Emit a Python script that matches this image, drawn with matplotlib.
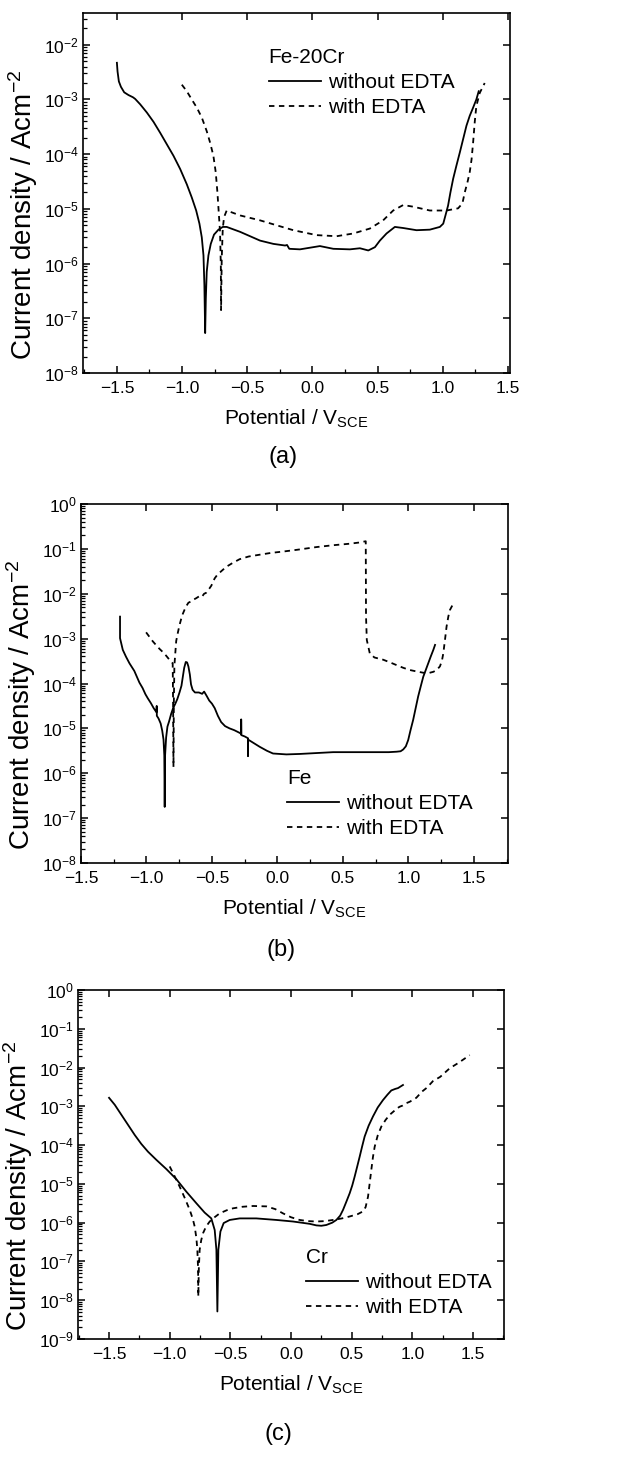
import numpy as np
import matplotlib
matplotlib.use("Agg")
import matplotlib.pyplot as plt
from matplotlib.ticker import MultipleLocator, LogLocator, NullFormatter

plt.rcParams["font.family"] = ["Liberation Sans", "DejaVu Sans"]
plt.rcParams["mathtext.fontset"] = "custom"
plt.rcParams["mathtext.rm"] = "Liberation Sans"
plt.rcParams["mathtext.it"] = "Liberation Sans:italic"
plt.rcParams["mathtext.bf"] = "Liberation Sans:bold"

# ---- DATA (potential in V_SCE, log10 of current density in A/cm2) ----
# (a) Fe-20Cr
a_wo_E = [-1.500, -1.495, -1.485, -1.469, -1.444, -1.411, -1.377, -1.360, -1.321, -1.270,
          -1.219, -1.168, -1.117, -1.066, -1.015, -0.964, -0.926, -0.892, -0.867, -0.849,
          -0.836, -0.829, -0.823, -0.818, -0.811, -0.798, -0.780, -0.755, -0.721, -0.688,
          -0.658, -0.555, -0.402, -0.300, -0.210, -0.195, -0.178, -0.096, 0.006, 0.057,
          0.160, 0.287, 0.364, 0.428, 0.479, 0.517, 0.568, 0.632, 0.696, 0.798,
          0.900, 0.977, 1.003, 1.020, 1.040, 1.058, 1.079, 1.104, 1.130, 1.155,
          1.181, 1.206, 1.232, 1.257, 1.275]
a_wo_L = [-2.33, -2.49, -2.67, -2.77, -2.87, -2.92, -2.96, -2.99, -3.09, -3.24,
          -3.41, -3.61, -3.82, -4.03, -4.27, -4.55, -4.79, -5.03, -5.27, -5.52,
          -5.85, -6.39, -7.27, -6.64, -6.15, -5.85, -5.64, -5.47, -5.38, -5.33,
          -5.33, -5.42, -5.58, -5.64, -5.67, -5.66, -5.73, -5.74, -5.70, -5.68,
          -5.73, -5.74, -5.72, -5.76, -5.70, -5.58, -5.45, -5.33, -5.35, -5.39,
          -5.38, -5.33, -5.27, -5.12, -4.94, -4.70, -4.45, -4.21, -3.97, -3.73,
          -3.48, -3.30, -3.15, -3.00, -2.85]
a_w_E = [-1.002, -0.964, -0.926, -0.887, -0.849, -0.811, -0.785, -0.760, -0.742, -0.729,
         -0.719, -0.709, -0.703, -0.701, -0.696, -0.688, -0.678, -0.658, -0.555, -0.402,
         -0.275, -0.147, 0.032, 0.185, 0.313, 0.440, 0.542, 0.619, 0.696, 0.772,
         0.900, 1.028, 1.117, 1.150, 1.168, 1.190, 1.206, 1.220, 1.232, 1.245,
         1.257, 1.283, 1.321]
a_w_L = [-2.73, -2.85, -3.00, -3.15, -3.33, -3.58, -3.79, -4.03, -4.33, -4.70,
         -5.06, -5.42, -6.03, -6.85, -5.91, -5.36, -5.15, -5.03, -5.12, -5.21,
         -5.30, -5.39, -5.48, -5.50, -5.45, -5.36, -5.21, -5.03, -4.93, -4.96,
         -5.03, -5.03, -4.99, -4.90, -4.70, -4.50, -4.33, -4.10, -3.79, -3.40,
         -3.12, -2.88, -2.70]

# (b) Fe
b_wo_E = [-1.202, -1.202, -1.181, -1.157, -1.130, -1.093, -1.054, -1.030, -1.008, -0.990,
          -0.966, -0.945, -0.924, -0.922, -0.921, -0.908, -0.892, -0.880, -0.870, -0.864,
          -0.861, -0.858, -0.850, -0.840, -0.828, -0.812, -0.797, -0.780, -0.765, -0.748,
          -0.733, -0.720, -0.712, -0.700, -0.690, -0.680, -0.669, -0.660, -0.648, -0.630,
          -0.600, -0.575, -0.560, -0.540, -0.521, -0.500, -0.479, -0.455, -0.430, -0.400,
          -0.366, -0.330, -0.289, -0.277, -0.277, -0.276, -0.250, -0.225, -0.225, -0.224,
          -0.180, -0.136, -0.080, -0.034, 0.068, 0.170, 0.297, 0.425, 0.680, 0.850,
          0.909, 0.940, 0.960, 0.980, 0.998, 1.015, 1.036, 1.055, 1.074, 1.095,
          1.113, 1.132, 1.151, 1.170, 1.190, 1.203]
b_wo_L = [-2.51, -2.99, -3.25, -3.40, -3.55, -3.72, -3.98, -4.10, -4.24, -4.33,
          -4.44, -4.55, -4.64, -4.50, -4.72, -4.78, -4.89, -5.05, -5.25, -5.60,
          -6.75, -5.60, -5.20, -4.96, -4.85, -4.68, -4.55, -4.45, -4.35, -4.20,
          -4.05, -3.80, -3.65, -3.52, -3.53, -3.62, -3.80, -4.02, -4.14, -4.20,
          -4.20, -4.23, -4.18, -4.28, -4.38, -4.45, -4.55, -4.72, -4.86, -4.95,
          -5.00, -5.04, -5.10, -5.12, -4.80, -5.15, -5.18, -5.22, -5.62, -5.25,
          -5.33, -5.41, -5.50, -5.56, -5.58, -5.57, -5.55, -5.53, -5.53, -5.53,
          -5.52, -5.51, -5.47, -5.40, -5.26, -5.05, -4.81, -4.55, -4.29, -4.05,
          -3.85, -3.70, -3.55, -3.40, -3.25, -3.14]
b_w_E = [-1.003, -0.975, -0.952, -0.925, -0.900, -0.875, -0.850, -0.825, -0.810, -0.800,
         -0.797, -0.794, -0.791, -0.787, -0.780, -0.773, -0.760, -0.748, -0.735, -0.723,
         -0.710, -0.697, -0.680, -0.659, -0.640, -0.621, -0.605, -0.590, -0.575, -0.560,
         -0.545, -0.530, -0.519, -0.505, -0.492, -0.480, -0.460, -0.430, -0.391, -0.340,
         -0.289, -0.220, -0.136, -0.050, 0.042, 0.150, 0.297, 0.420, 0.552, 0.620,
         0.674, 0.676, 0.682, 0.705, 0.740, 0.807, 0.860, 0.909, 0.960, 1.011,
         1.060, 1.113, 1.150, 1.190, 1.215, 1.240, 1.255, 1.266, 1.280, 1.291,
         1.305, 1.317, 1.335, 1.355]
b_w_L = [-2.86, -2.97, -3.06, -3.15, -3.23, -3.30, -3.38, -3.47, -3.52, -3.55,
         -4.40, -5.86, -4.40, -3.60, -3.32, -3.05, -2.86, -2.70, -2.56, -2.45,
         -2.36, -2.28, -2.20, -2.17, -2.13, -2.10, -2.07, -2.04, -2.06, -2.00,
         -1.98, -1.92, -1.88, -1.82, -1.74, -1.66, -1.58, -1.50, -1.40, -1.31,
         -1.23, -1.17, -1.13, -1.09, -1.06, -1.02, -0.96, -0.92, -0.885, -0.86,
         -0.83, -2.50, -3.03, -3.33, -3.42, -3.47, -3.53, -3.59, -3.65, -3.70,
         -3.73, -3.76, -3.77, -3.74, -3.70, -3.62, -3.50, -3.33, -3.00, -2.73,
         -2.50, -2.36, -2.26, -2.19]

# (c) Cr
c_wo_E = [-1.500, -1.453, -1.398, -1.343, -1.288, -1.234, -1.179, -1.110, -1.027, -0.945,
          -0.863, -0.780, -0.712, -0.657, -0.629, -0.615, -0.607, -0.599, -0.582, -0.555,
          -0.505, -0.423, -0.286, -0.121, 0.016, 0.154, 0.209, 0.250, 0.291, 0.340,
          0.374, 0.405, 0.429, 0.455, 0.484, 0.505, 0.525, 0.546, 0.566, 0.586,
          0.607, 0.640, 0.676, 0.715, 0.758, 0.795, 0.827, 0.860, 0.882, 0.923]
c_wo_L = [-2.78, -2.96, -3.22, -3.48, -3.74, -3.97, -4.17, -4.38, -4.62, -4.88,
          -5.20, -5.50, -5.74, -5.89, -6.19, -6.70, -8.29, -6.70, -6.23, -6.01,
          -5.93, -5.89, -5.89, -5.93, -5.97, -6.03, -6.07, -6.08, -6.06, -6.00,
          -5.93, -5.82, -5.67, -5.47, -5.24, -5.04, -4.81, -4.55, -4.30, -4.04,
          -3.78, -3.50, -3.26, -3.03, -2.84, -2.70, -2.59, -2.55, -2.53, -2.45]
c_w_E = [-1.000, -0.960, -0.918, -0.875, -0.835, -0.810, -0.794, -0.780, -0.772, -0.766,
         -0.764, -0.760, -0.753, -0.740, -0.725, -0.700, -0.670, -0.630, -0.588, -0.530,
         -0.478, -0.400, -0.313, -0.203, -0.130, -0.066, 0.000, 0.071, 0.140, 0.209,
         0.280, 0.346, 0.420, 0.484, 0.550, 0.593, 0.615, 0.635, 0.648, 0.662,
         0.676, 0.690, 0.715, 0.745, 0.780, 0.813, 0.850, 0.870, 0.896, 0.920,
         0.950, 0.980, 1.033, 1.080, 1.120, 1.170, 1.230, 1.308, 1.380, 1.473]
c_w_L = [-4.55, -4.80, -5.07, -5.37, -5.67, -5.90, -6.10, -6.40, -6.70, -7.20,
         -7.90, -7.20, -6.70, -6.45, -6.27, -6.10, -5.97, -5.86, -5.76, -5.68,
         -5.63, -5.59, -5.57, -5.58, -5.65, -5.76, -5.86, -5.93, -5.96, -5.97,
         -5.96, -5.93, -5.89, -5.84, -5.78, -5.71, -5.60, -5.33, -5.00, -4.64,
         -4.30, -4.04, -3.75, -3.52, -3.35, -3.22, -3.12, -3.06, -3.01, -2.98,
         -2.92, -2.88, -2.78, -2.62, -2.52, -2.35, -2.24, -2.02, -1.88, -1.68]

PANELS = [
    dict(wo=(a_wo_E, a_wo_L), w=(a_w_E, a_w_L), title="Fe-20Cr", tag="(a)",
         xlim=(-1.76, 1.515), ylim=(1e-8, 10 ** -1.42), pos=(83, 13, 510, 373),
         leg=(0.435, 0.903), tag_y=84),
    dict(wo=(b_wo_E, b_wo_L), w=(b_w_E, b_w_L), title="Fe", tag="(b)",
         xlim=(-1.5, 1.76), ylim=(1e-8, 1.0), pos=(81, 504, 508, 863),
         leg=(0.482, 0.262), tag_y=87),
    dict(wo=(c_wo_E, c_wo_L), w=(c_w_E, c_w_L), title="Cr", tag="(c)",
         xlim=(-1.756, 1.756), ylim=(1e-9, 1.0), pos=(78, 990, 504, 1339),
         leg=(0.535, 0.262), tag_y=95),
]

W, H = 627, 1458
fig = plt.figure(figsize=(W / 100, H / 100), dpi=100)

for p in PANELS:
    l, t, r, b = p["pos"]
    ax = fig.add_axes((l / W, 1 - b / H, (r - l) / W, (b - t) / H))
    e, lg = p["wo"]
    ax.plot(e, 10 ** np.array(lg), color="black", lw=1.3, label="without EDTA")
    e, lg = p["w"]
    ax.plot(e, 10 ** np.array(lg), color="black", lw=1.3, ls=(0, (3, 2.5)), label="with EDTA")
    ax.set_yscale("log")
    ax.set_xlim(*p["xlim"])
    ax.set_ylim(*p["ylim"])
    ax.xaxis.set_major_locator(MultipleLocator(0.5))
    ax.xaxis.set_minor_locator(MultipleLocator(0.25))
    ax.yaxis.set_major_locator(LogLocator(base=10, numticks=20))
    ax.yaxis.set_minor_locator(LogLocator(base=10, subs=np.arange(2, 10), numticks=20))
    ax.yaxis.set_minor_formatter(NullFormatter())
    ax.tick_params(which="major", direction="in", top=True, right=True, length=5, width=1.1)
    ax.tick_params(which="minor", direction="in", top=False, right=False, length=2.8, width=0.9)
    ax.tick_params(axis="x", which="major", labelsize=12.5, pad=6)
    ax.tick_params(axis="y", which="major", labelsize=12.5, pad=3)
    for s in ax.spines.values():
        s.set_linewidth(1.2)
    ax.set_xlabel("Potential / V$_{\\mathrm{SCE}}$", fontsize=15, labelpad=8)
    ax.set_ylabel("Current density / Acm$^{-2}$", fontsize=20)
    ax.yaxis.set_label_coords(-0.10, 0.44)
    ax.legend(title=p["title"], frameon=False, fontsize=15, title_fontsize=15,
              handlelength=2.5, handletextpad=0.35, labelspacing=0.3,
              borderpad=0, borderaxespad=0, alignment="left",
              loc="upper left", bbox_to_anchor=p["leg"])
    fig.text((l + r) / 2 / W - 13 / W, 1 - (b + p["tag_y"]) / H, p["tag"],
             fontsize=17, ha="center", va="center")

fig.savefig("out.png", dpi=100)
